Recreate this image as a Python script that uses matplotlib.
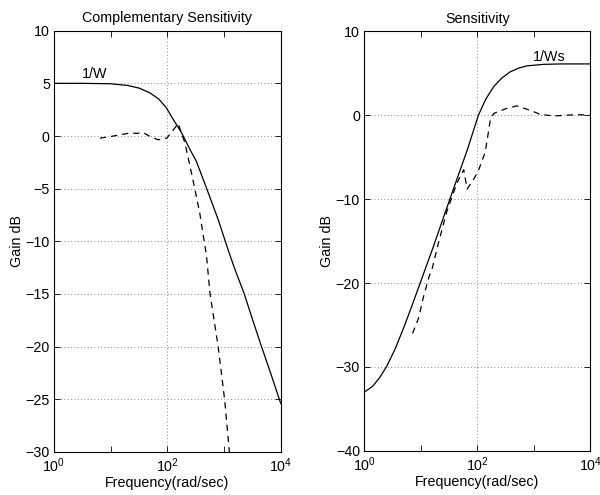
import numpy as np
import matplotlib
matplotlib.use('Agg')
import matplotlib.pyplot as plt
from matplotlib.ticker import FixedLocator, LogFormatterSciNotation, NullFormatter

plt.rcParams['font.family'] = ['Liberation Sans', 'DejaVu Sans']
plt.rcParams['mathtext.default'] = 'regular'
plt.rcParams['font.size'] = 10

# left panel: complementary sensitivity (log10 frequency, gain dB)
t_w_logf = [0.0, 0.5, 1.0, 1.3, 1.5, 1.69, 1.85, 1.985, 2.1, 2.25, 2.4, 2.51,
            2.69, 2.9, 3.07, 3.2, 3.35, 3.5, 3.66, 3.82, 3.98, 4.0]
t_w_db = [5.0, 5.0, 4.96, 4.8, 4.55, 4.1, 3.5, 2.65, 1.6, 0.3, -1.3, -2.4,
          -4.95, -8.0, -10.8, -12.8, -14.9, -17.4, -20.0, -22.5, -25.1, -25.4]

t_logf = [0.81, 0.95, 1.10, 1.34, 1.46, 1.57, 1.69, 1.84, 1.99, 2.13, 2.19,
          2.31, 2.45, 2.57, 2.69, 2.75, 2.895, 3.01, 3.09, 3.1]
t_db = [-0.2, -0.1, 0.05, 0.28, 0.25, 0.34, -0.04, -0.36, -0.2, 0.75, 1.2,
        -0.67, -4.16, -7.3, -11.4, -14.9, -20.0, -25.06, -29.8, -30.5]

# right panel: sensitivity
s_w_logf = [0.0, 0.15, 0.28, 0.4, 0.55, 0.7, 0.85, 0.99, 1.2, 1.52, 1.82,
            2.02, 2.15, 2.29, 2.43, 2.58, 2.73, 2.88, 3.17, 3.5, 4.0]
s_w_db = [-33.0, -32.3, -31.2, -29.9, -27.8, -25.3, -22.6, -20.0, -16.1, -9.9,
          -4.2, 0.0, 1.9, 3.4, 4.4, 5.15, 5.6, 5.87, 6.05, 6.1, 6.1]

s_logf = [0.855, 0.96, 1.05, 1.14, 1.17, 1.19, 1.31, 1.46, 1.64, 1.76, 1.82,
          1.93, 2.02, 2.14, 2.23, 2.29, 2.4, 2.52, 2.7, 2.88, 3.0, 3.11, 3.35,
          3.59, 3.8, 4.0]
s_db = [-26.0, -24.2, -21.6, -19.4, -18.8, -18.6, -15.3, -11.5, -8.1, -6.5,
        -8.8, -7.7, -6.6, -4.4, -0.6, 0.2, 0.5, 0.8, 1.1, 0.7, 0.4, 0.1, -0.1,
        0.0, 0.05, 0.0]

fig = plt.figure(figsize=(6.0, 4.95), dpi=100)
ax1 = fig.add_axes([0.09, 0.087, 0.378, 0.851])
ax2 = fig.add_axes([0.607, 0.089, 0.377, 0.848])


def style(ax, ylim, yticks):
    ax.set_xscale('log')
    ax.set_xlim(1, 1e4)
    ax.set_ylim(*ylim)
    ax.xaxis.set_major_locator(FixedLocator([1, 1e2, 1e4]))
    ax.xaxis.set_minor_locator(FixedLocator([10, 1e3]))
    ax.xaxis.set_major_formatter(LogFormatterSciNotation())
    ax.xaxis.set_minor_formatter(NullFormatter())
    ax.set_yticks(yticks)
    ax.tick_params(which='both', direction='in', top=True, right=True,
                   length=4, width=0.6, labelsize=10.3, pad=3)
    ax.grid(True, which='major', linestyle=(0, (1, 3)), color='#666666', linewidth=0.6)
    for s in ax.spines.values():
        s.set_linewidth(0.8)
    ax.set_xlabel('Frequency(rad/sec)', fontsize=10.3, labelpad=1)
    ax.set_ylabel('Gain dB', fontsize=10.3, labelpad=1)


style(ax1, (-30, 10), np.arange(-30, 11, 5))
ax1.plot(10 ** np.array(t_w_logf), t_w_db, color='black', linewidth=0.9)
ax1.plot(10 ** np.array(t_logf), t_db, color='black', linewidth=0.9, linestyle=(0, (5, 4)))
ax1.text(10 ** 0.5, 5.5, '1/W', fontsize=10.3)
ax1.set_title('Complementary Sensitivity', fontsize=10.3, pad=6)

style(ax2, (-40, 10), np.arange(-40, 11, 10))
ax2.plot(10 ** np.array(s_w_logf), s_w_db, color='black', linewidth=0.9)
ax2.plot(10 ** np.array(s_logf), s_db, color='black', linewidth=0.9, linestyle=(0, (5, 4)))
ax2.text(10 ** 2.99, 6.5, '1/Ws', fontsize=10.3)
ax2.set_title('Sensitivity', fontsize=10.3, pad=6)

fig.savefig('out.png', dpi=100)
